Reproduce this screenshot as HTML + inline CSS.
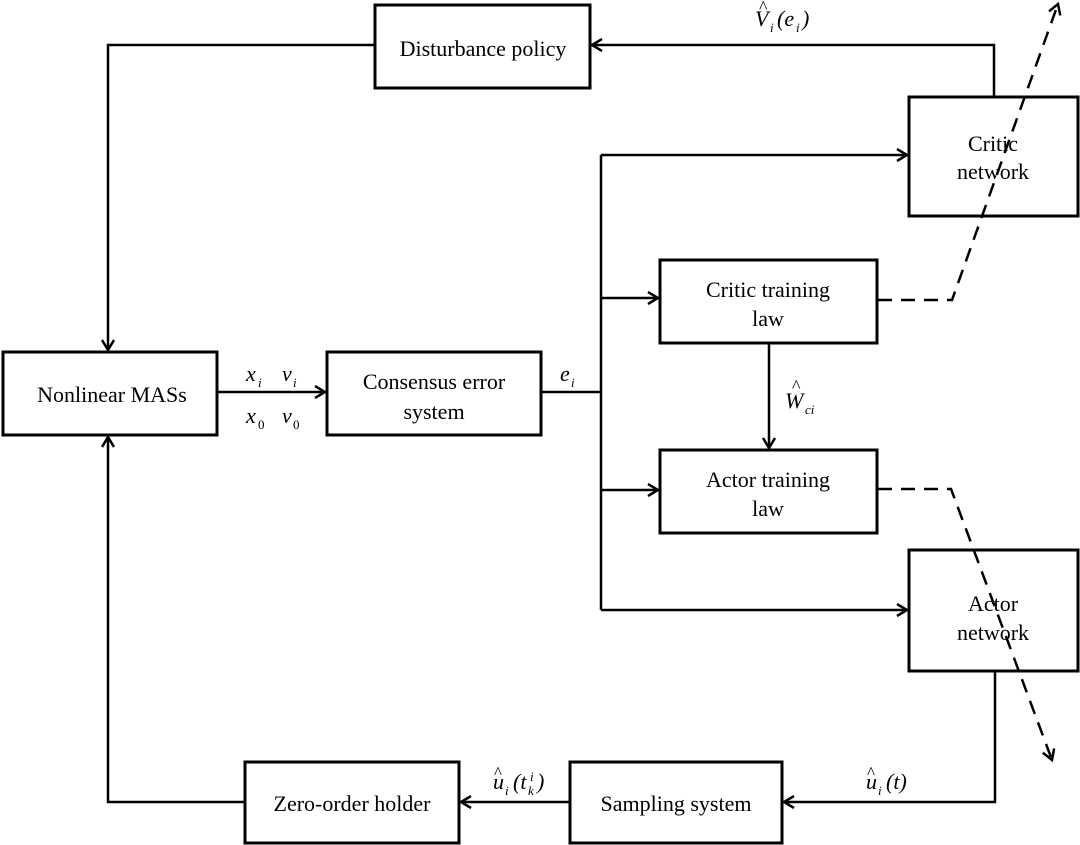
<!DOCTYPE html>
<html><head><meta charset="utf-8"><style>
html,body{margin:0;padding:0;background:#fff;}
svg{display:block;}
text{font-family:"Liberation Serif",serif;fill:#000;}
.b{font-size:22px;text-anchor:middle;}
.m{font-style:italic;font-size:22px;}
.s{font-style:italic;font-size:13px;}
.n{font-size:13px;}
</style></head><body>
<svg width="1080" height="845" viewBox="0 0 1080 845" xmlns="http://www.w3.org/2000/svg">
<defs>
<marker id="a" markerWidth="14" markerHeight="14" refX="12" refY="7" orient="auto" markerUnits="userSpaceOnUse">
<path d="M2,1 L12,7 L2,13" fill="none" stroke="#000" stroke-width="2.5"/>
</marker>
</defs>
<g fill="none" stroke="#000" stroke-width="3">
<rect x="375" y="5" width="215" height="83"/>
<rect x="3" y="352" width="214" height="83"/>
<rect x="327" y="352" width="214" height="83"/>
<rect x="660" y="260" width="217" height="83"/>
<rect x="660" y="450" width="217" height="83"/>
<rect x="909" y="97" width="169" height="119"/>
<rect x="909" y="550" width="169" height="121"/>
<rect x="245" y="762" width="214" height="81"/>
<rect x="570" y="762" width="212" height="81"/>
</g>
<g fill="none" stroke="#000" stroke-width="2.5">
<polyline points="375,45 108,45 108,350" marker-end="url(#a)"/>
<polyline points="994,97 994,45 592,45" marker-end="url(#a)"/>
<line x1="217" y1="392" x2="325" y2="392" marker-end="url(#a)"/>
<line x1="541" y1="392" x2="601" y2="392"/>
<line x1="601" y1="155" x2="601" y2="610"/>
<line x1="601" y1="155" x2="907" y2="155" marker-end="url(#a)"/>
<line x1="601" y1="298" x2="658" y2="298" marker-end="url(#a)"/>
<line x1="601" y1="490" x2="658" y2="490" marker-end="url(#a)"/>
<polyline points="601,610 907,610" marker-end="url(#a)"/>
<line x1="769" y1="343" x2="769" y2="448" marker-end="url(#a)"/>
<polyline points="995,671 995,802 784,802" marker-end="url(#a)"/>
<line x1="570" y1="802" x2="461" y2="802" marker-end="url(#a)"/>
<polyline points="245,802 108,802 108,437" marker-end="url(#a)"/>
<polyline points="878,300 952,300 1058,4" stroke-dasharray="14,9" marker-end="url(#a)"/>
<polyline points="878,489 951,489 1052,760" stroke-dasharray="14,9" marker-end="url(#a)"/>
</g>
<text class="b" x="483" y="56">Disturbance policy</text>
<text class="b" x="112" y="402">Nonlinear MASs</text>
<text class="b" x="434" y="389">Consensus error</text>
<text class="b" x="434" y="419">system</text>
<text class="b" x="768" y="297">Critic training</text>
<text class="b" x="768" y="326">law</text>
<text class="b" x="768" y="487">Actor training</text>
<text class="b" x="768" y="516">law</text>
<text class="b" x="993" y="151">Critic</text>
<text class="b" x="993" y="179">network</text>
<text class="b" x="993" y="611">Actor</text>
<text class="b" x="993" y="640">network</text>
<text class="b" x="352" y="811">Zero-order holder</text>
<text class="b" x="676" y="811">Sampling system</text>
<text class="m" x="246" y="381">x</text><text class="s" x="258" y="387">i</text>
<text class="m" x="282" y="381">v</text><text class="s" x="293" y="387">i</text>
<text class="m" x="246" y="423">x</text><text class="n" x="258" y="429">0</text>
<text class="m" x="282" y="423">v</text><text class="n" x="293" y="429">0</text>
<text class="m" x="560" y="381">e</text><text class="s" x="571" y="387">i</text>
<text class="m" x="755" y="26">V</text><text x="759" y="13" font-size="18">^</text><text class="s" x="770" y="32">i</text><text class="m" x="777" y="26">(e</text><text class="s" x="796" y="32">i</text><text class="m" x="802" y="26">)</text>
<text class="m" x="785" y="408">W</text><text x="792" y="392" font-size="18">^</text><text class="s" x="805" y="414">ci</text>
<text class="m" x="866" y="789">u</text><text x="867" y="778" font-size="17">^</text><text class="s" x="878" y="795">i</text><text class="m" x="886" y="789">(t)</text>
<text class="m" x="493" y="789">u</text><text x="494" y="778" font-size="17">^</text><text class="s" x="505" y="795">i</text><text class="m" x="513" y="789">(t</text><text class="s" x="530" y="781">i</text><text class="s" x="528" y="795">k</text><text class="m" x="537" y="789">)</text>
</svg>
</body></html>
